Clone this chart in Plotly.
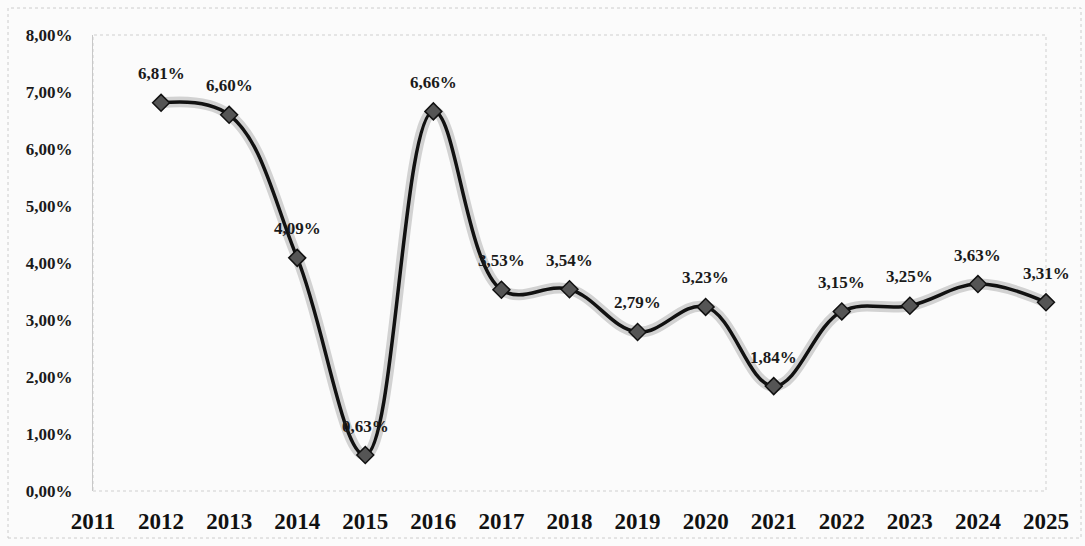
import plotly.graph_objects as go

years = [2012, 2013, 2014, 2015, 2016, 2017, 2018, 2019, 2020, 2021, 2022, 2023, 2024, 2025]
rates = [6.81, 6.60, 4.09, 0.63, 6.66, 3.53, 3.54, 2.79, 3.23, 1.84, 3.15, 3.25, 3.63, 3.31]
tick_years = list(range(2011, 2026))
y_ticks = [0, 1, 2, 3, 4, 5, 6, 7, 8]

def pct(v):
    return f"{v:.2f}".replace(".", ",") + "%"

W, H = 1085, 546
L, R, T, B = 93, 39, 35, 55

fig = go.Figure()

# soft shadow under the line
fig.add_trace(go.Scatter(
    x=years, y=rates, mode="lines",
    line=dict(color="rgba(0,0,0,0.16)", width=11, shape="spline", smoothing=1.1),
    hoverinfo="skip", showlegend=False, cliponaxis=False,
))
fig.add_trace(go.Scatter(
    x=years, y=rates, mode="lines+markers",
    line=dict(color="#111111", width=3.5, shape="spline", smoothing=1.1),
    marker=dict(symbol="diamond", size=13, color="#555555",
                line=dict(color="#111111", width=1.5)),
    showlegend=False, cliponaxis=False,
))

for xv, yv in zip(years, rates):
    fig.add_annotation(
        x=xv, y=yv, text=pct(yv), showarrow=False, yshift=29,
        font=dict(family="Liberation Serif", size=17, color="#1a1a1a", weight="bold"),
    )

pw, ph = W - L - R, H - T - B
# outer frame
fig.add_shape(type="rect", xref="paper", yref="paper",
              x0=(8 - L) / pw, x1=(W - 4 - L) / pw,
              y0=-(H - 8 - (H - B)) / ph, y1=1 + (T - 8) / ph,
              line=dict(color="#cccccc", width=1, dash="dot"), layer="below")
# plot area frame
fig.add_shape(type="rect", xref="paper", yref="paper", x0=0, x1=1, y0=0, y1=1,
              line=dict(color="#cfcfcf", width=1, dash="dot"), layer="below")

fig.update_layout(
    width=W, height=H,
    margin=dict(l=L, r=R, t=T, b=B, autoexpand=False),
    paper_bgcolor="#fbfbfb", plot_bgcolor="#fbfbfb",
    xaxis=dict(
        range=[2011, 2025], tickmode="array", tickvals=tick_years,
        ticktext=[str(y) for y in tick_years], automargin=False,
        showgrid=False, zeroline=False, showline=False, ticks="",
        ticklabelstandoff=14,
        tickfont=dict(family="Liberation Serif", size=23, color="#111111", weight="bold"),
    ),
    yaxis=dict(
        range=[0, 8], tickmode="array", tickvals=y_ticks,
        ticktext=[pct(v) for v in y_ticks], automargin=False,
        showgrid=False, zeroline=False, showline=True, linecolor="#c8c8c8", linewidth=1,
        ticks="", ticklabelstandoff=16,
        tickfont=dict(family="Liberation Serif", size=17, color="#1a1a1a", weight="bold"),
    ),
)

fig.write_html("out.html", config={"displayModeBar": False},
               post_script="document.body.style.margin='0';document.body.style.background='#fbfbfb';")
